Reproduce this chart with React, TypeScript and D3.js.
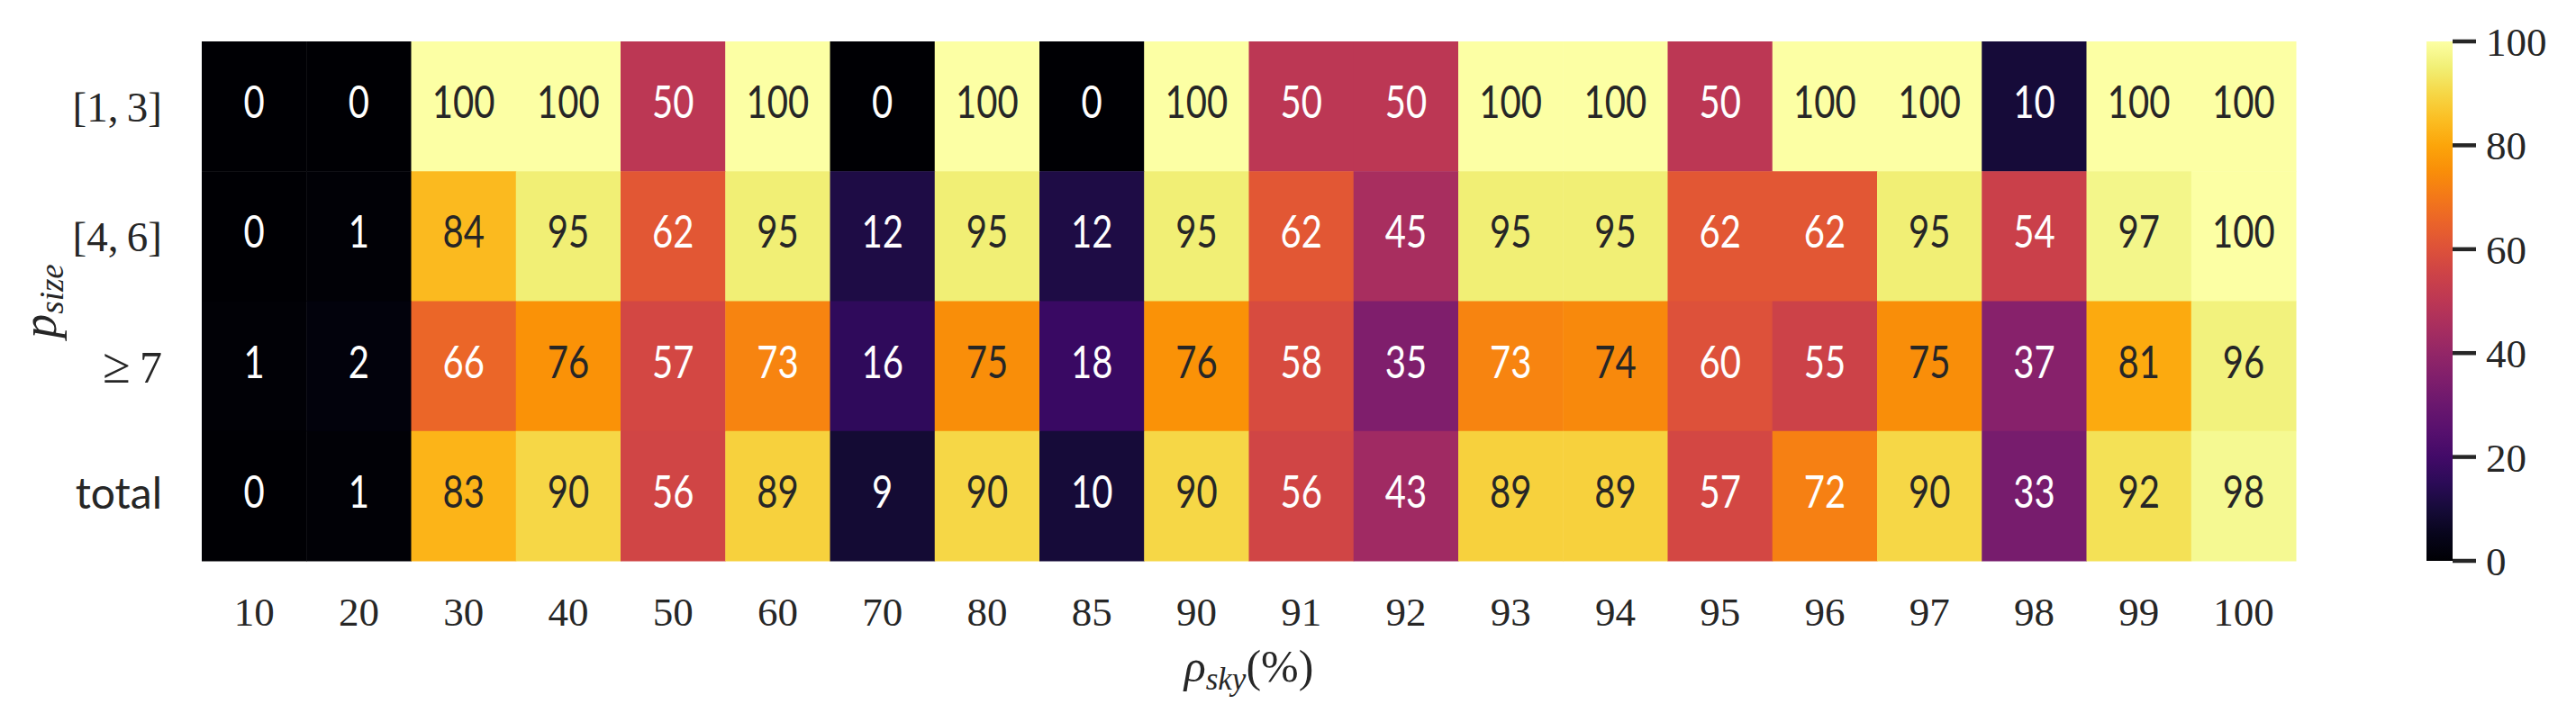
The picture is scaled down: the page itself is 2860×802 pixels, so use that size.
import React from "react";
import * as d3 from "d3";

// columns: rho_sky (%)
const skyLevels = ["10", "20", "30", "40", "50", "60", "70", "80", "85", "90", "91", "92", "93", "94", "95", "96", "97", "98", "99", "100"];
// rows: p_size buckets
const sizeBuckets = ["[1,\u20093]", "[4,\u20096]", "\u2265\u20097", "total"];

const row13 = [0, 0, 100, 100, 50, 100, 0, 100, 0, 100, 50, 50, 100, 100, 50, 100, 100, 10, 100, 100];
const row46 = [0, 1, 84, 95, 62, 95, 12, 95, 12, 95, 62, 45, 95, 95, 62, 62, 95, 54, 97, 100];
const row7 = [1, 2, 66, 76, 57, 73, 16, 75, 18, 76, 58, 35, 73, 74, 60, 55, 75, 37, 81, 96];
const rowTotal = [0, 1, 83, 90, 56, 89, 9, 90, 10, 90, 56, 43, 89, 89, 57, 72, 90, 33, 92, 98];

const colorbarTicks = [0, 20, 40, 60, 80, 100];

const W = 2860;
const H = 802;
const margin = { left: 224, right: 311, top: 46, bottom: 179 };
const serif = "'Liberation Serif', 'DejaVu Serif', serif";
const sans = "Lato, 'Open Sans', sans-serif";
const ink = "#262626";

function luminance(c: string) {
  const rgb = d3.rgb(c);
  const lin = (v: number) => {
    v = v / 255;
    return v <= 0.03928 ? v / 12.92 : Math.pow((v + 0.055) / 1.055, 2.4);
  };
  return 0.2126 * lin(rgb.r) + 0.7152 * lin(rgb.g) + 0.0722 * lin(rgb.b);
}

export default function App() {
  const rows = [row13, row46, row7, rowTotal];
  const x = d3.scaleBand().domain(skyLevels).range([margin.left, W - margin.right]);
  const y = d3.scaleBand().domain(sizeBuckets).range([margin.top, H - margin.bottom]);
  const color = d3.scaleSequential(d3.interpolateInferno).domain([0, 100]);
  // d3's inferno is a touch brighter than matplotlib's, so pick the cut-off between 73 and 74
  const lumCut = luminance(color(73.5));

  // colorbar
  const cbX = 2694;
  const cbW = 29;
  const cbScale = d3.scaleLinear().domain([0, 100]).range([H - margin.bottom, margin.top]);
  const stops = d3.range(0, 1.0001, 0.05);

  const cx = (margin.left + W - margin.right) / 2;
  const cy = (margin.top + H - margin.bottom) / 2;

  return (
    <>
      <style>{`body{margin:0}`}</style>
      <svg width={W} height={H} style={{ display: "block", background: "#fff" }}>
        <defs>
          <linearGradient id="cb" x1="0" y1="1" x2="0" y2="0">
            {stops.map((t) => (
              <stop key={t} offset={t} stopColor={d3.interpolateInferno(t)} />
            ))}
          </linearGradient>
        </defs>

        {/* cells */}
        {rows.map((vals, ri) =>
          vals.map((v, ci) => {
            const fill = color(v);
            const txt = luminance(fill) > lumCut ? ink : "#ffffff";
            const xx = x(skyLevels[ci])!;
            const yy = y(sizeBuckets[ri])!;
            return (
              <g key={`${ri}-${ci}`}>
                <rect x={xx} y={yy} width={x.bandwidth() + 0.5} height={y.bandwidth() + 0.5} fill={fill} />
                <text
                  transform={`translate(${xx + x.bandwidth() / 2},${yy + y.bandwidth() / 2 + 13}) scale(0.8,1)`}
                  textAnchor="middle"
                  fontFamily={sans}
                  fontSize={50}
                  fill={txt}
                >
                  {v}
                </text>
              </g>
            );
          })
        )}

        {/* x tick labels */}
        {skyLevels.map((s) => (
          <text key={s} x={x(s)! + x.bandwidth() / 2} y={695} textAnchor="middle" fontFamily={serif} fontSize={45} fill={ink}>
            {s}
          </text>
        ))}

        {/* y tick labels */}
        {sizeBuckets.map((s) => {
          const yy = y(s)! + y.bandwidth() / 2;
          if (s === "total") {
            return (
              <text key={s} x={180} y={yy + 14} textAnchor="end" fontFamily={sans} fontSize={48} fill={ink}>
                {s}
              </text>
            );
          }
          if (s.startsWith("\u2265")) {
            return (
              <text key={s} x={180} y={yy + 18} textAnchor="end" fontFamily={serif} fontSize={50} fill={ink}>
                <tspan fontSize={56}>{"\u2265"}</tspan>
                <tspan>{"\u20097"}</tspan>
              </text>
            );
          }
          return (
            <text key={s} x={180} y={yy + 17} textAnchor="end" fontFamily={serif} fontSize={47} fill={ink}>
              {s}
            </text>
          );
        })}

        {/* axis titles */}
        <text x={cx} y={757} textAnchor="middle" fontFamily={serif} fontSize={50} fill={ink}>
          <tspan fontStyle="italic">ρ</tspan>
          <tspan fontStyle="italic" fontSize={35} dy={9}>sky</tspan>
          <tspan dy={-9}>(%)</tspan>
        </text>
        <text transform={`translate(62,${cy}) rotate(-90)`} textAnchor="middle" fontFamily={serif} fontSize={54} fill={ink}>
          <tspan fontStyle="italic">p</tspan>
          <tspan fontStyle="italic" fontSize={37} dy={8}>size</tspan>
        </text>

        {/* colorbar */}
        <rect x={cbX} y={margin.top} width={cbW} height={H - margin.bottom - margin.top} fill="url(#cb)" />
        {colorbarTicks.map((t) => (
          <g key={t} transform={`translate(${cbX + cbW},${cbScale(t)})`}>
            <line x1={0} x2={26} stroke={ink} strokeWidth={4.5} />
            <text x={37} dy={16} fontFamily={serif} fontSize={45} fill={ink}>
              {t}
            </text>
          </g>
        ))}
      </svg>
    </>
  );
}
